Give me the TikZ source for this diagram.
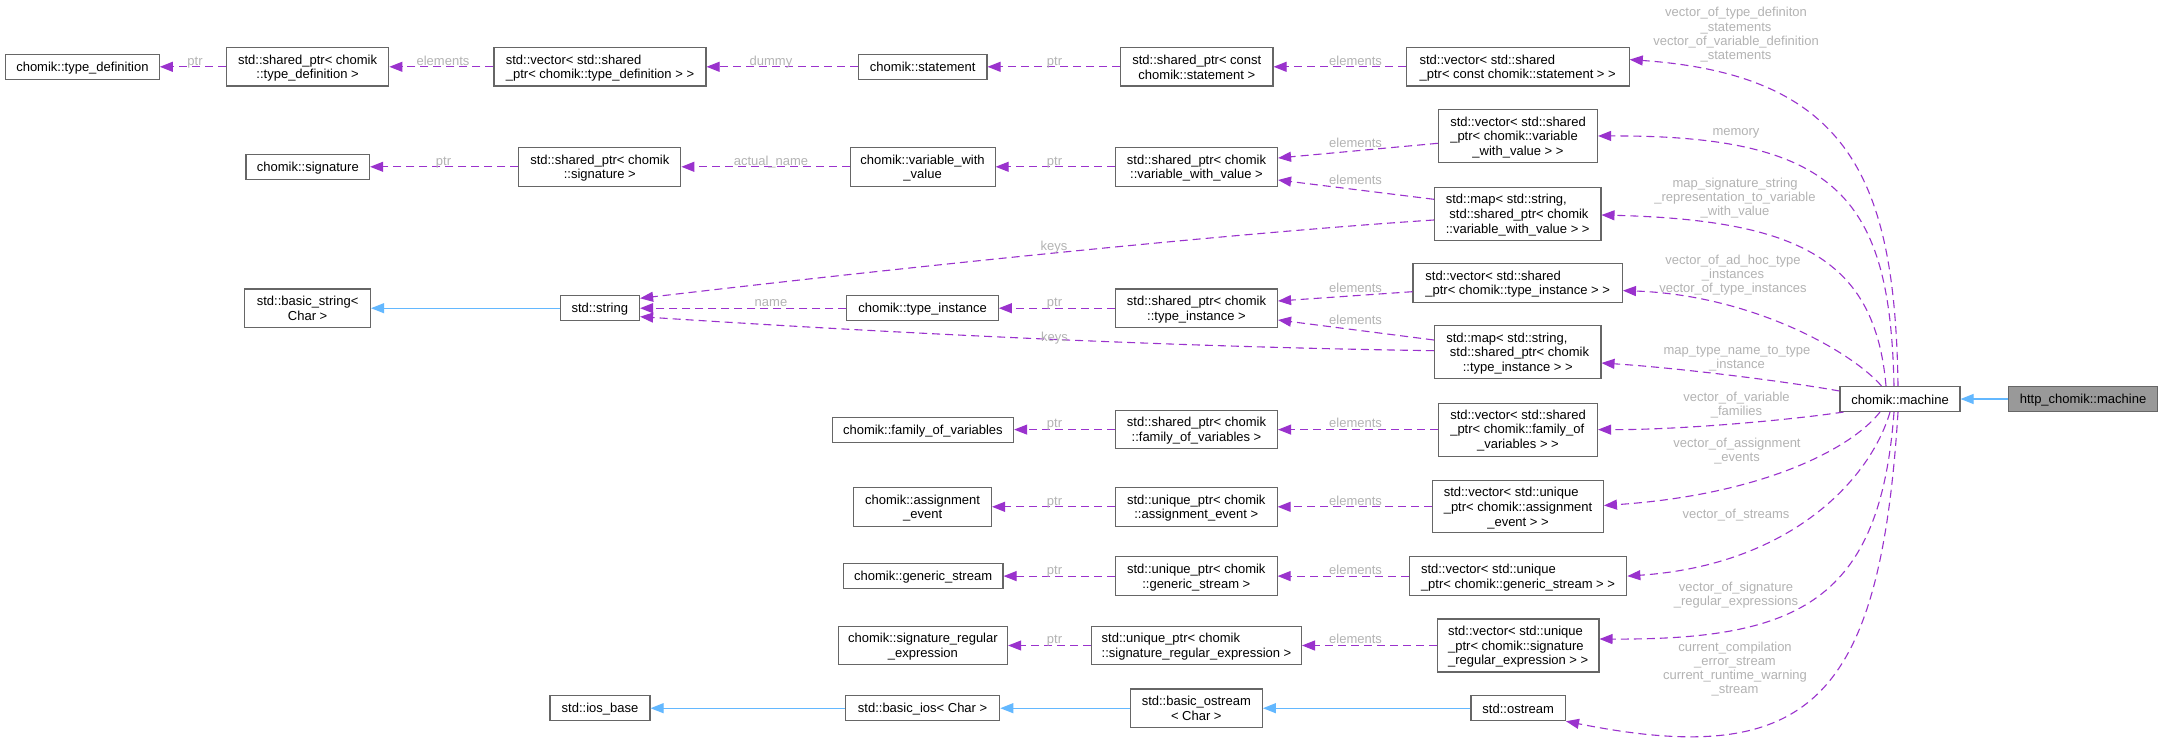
\documentclass[tikz,border=0pt]{standalone}
\usepackage{fontspec}
\setmainfont{Liberation Sans}
\usetikzlibrary{arrows.meta}
\definecolor{nodeborder}{HTML}{666666}
\definecolor{httpfill}{HTML}{999999}
\definecolor{usecol}{HTML}{9A32CD}
\definecolor{inhcol}{HTML}{63B8FF}
\definecolor{lblcol}{HTML}{B3B3B3}
\newcommand{\nlft}[1]{\begin{tabular}{@{}l@{}}#1\end{tabular}}
\newcommand{\ncen}[1]{\begin{tabular}{@{}c@{}}#1\end{tabular}}
\newcommand{\ncl}[1]{\multicolumn{1}{@{}c@{}}{#1}}
\newcommand{\nodefont}{\fontsize{13pt}{14pt}\selectfont\setbox\strutbox\hbox{\vrule height 12pt depth 2pt width 0pt}}
\newcommand{\lblfont}{\fontsize{13pt}{14.2pt}\selectfont\setbox\strutbox\hbox{\vrule height 10pt depth 4.2pt width 0pt}}
\tikzset{
  cls/.style={draw=nodeborder, fill=white, line width=1.1pt, inner sep=0pt, font=\nodefont},
  clsmain/.style={cls, fill=httpfill},
  lbl/.style={inner sep=0pt, text=lblcol, font=\lblfont, anchor=north},
  uses/.style={draw=usecol, line width=1.1pt, dash pattern=on 8pt off 5pt, -{Triangle[length=13pt,width=10pt]}},
  inh/.style={draw=inhcol, line width=1.1pt, -{Triangle[length=13pt,width=10pt]}},
}
\begin{document}
\begin{tikzpicture}[x=1pt,y=-1pt]
\fill[white] (0,0) rectangle (2163,741);
\useasboundingbox (0,0) rectangle (2163,741);

% row A
\node[cls, minimum width=153.8pt, minimum height=25pt] (td) at (82.4,66.8) {\ncen{chomik::type\_definition}};
\node[cls, minimum width=162.5pt, minimum height=38.5pt] (sptd) at (307.6,66.8) {\ncen{std::shared\_ptr< chomik\\::type\_definition >}};
\node[cls, minimum width=212pt, minimum height=38.5pt] (vtd) at (600,66.8) {\nlft{std::vector< std::shared\\\_ptr< chomik::type\_definition > >}};
\node[cls, minimum width=128.6pt, minimum height=25pt] (st) at (922.7,66.8) {\ncen{chomik::statement}};
\node[cls, minimum width=152.4pt, minimum height=38.5pt] (spst) at (1196.8,66.8) {\ncen{std::shared\_ptr< const\\chomik::statement >}};
\node[cls, minimum width=223pt, minimum height=38.5pt] (vst) at (1517.7,66.8) {\nlft{std::vector< std::shared\\\_ptr< const chomik::statement > >}};

% row B
\node[cls, minimum width=123.6pt, minimum height=25pt] (sig) at (307.8,166.8) {\ncen{chomik::signature}};
\node[cls, minimum width=162pt, minimum height=38.5pt] (spsig) at (599.8,166.8) {\ncen{std::shared\_ptr< chomik\\::signature >}};
\node[cls, minimum width=145pt, minimum height=38.5pt] (vwv) at (922.6,166.8) {\ncen{chomik::variable\_with\\\_value}};
\node[cls, minimum width=162pt, minimum height=38.5pt] (spvwv) at (1196.5,166.8) {\ncen{std::shared\_ptr< chomik\\::variable\_with\_value >}};
\node[cls, minimum width=159pt, minimum height=53pt] (vvwv) at (1518,136) {\nlft{std::vector< std::shared\\\_ptr< chomik::variable\\\ncl{\_with\_value > >}}};
\node[cls, minimum width=166.5pt, minimum height=53pt] (mvwv) at (1517.7,213.6) {\nlft{std::map< std::string,\\\ std::shared\_ptr< chomik\\\ncl{::variable\_with\_value > >}}};

% row C
\node[cls, minimum width=125.8pt, minimum height=38.5pt] (bs) at (307.6,308.2) {\ncen{std::basic\_string<\\Char >}};
\node[cls, minimum width=79.5pt, minimum height=25pt] (str) at (599.8,308.2) {\ncen{std::string}};
\node[cls, minimum width=151.5pt, minimum height=25pt] (ti) at (922.6,308.2) {\ncen{chomik::type\_instance}};
\node[cls, minimum width=162pt, minimum height=38.5pt] (spti) at (1196.5,308.2) {\ncen{std::shared\_ptr< chomik\\::type\_instance >}};
\node[cls, minimum width=209.4pt, minimum height=38.5pt] (vti) at (1517.7,283) {\nlft{std::vector< std::shared\\\_ptr< chomik::type\_instance > >}};
\node[cls, minimum width=166.5pt, minimum height=53pt] (mti) at (1517.7,352.2) {\nlft{std::map< std::string,\\\ std::shared\_ptr< chomik\\\ncl{::type\_instance > >}}};
\node[cls, minimum width=120pt, minimum height=25pt] (machine) at (1900,399) {\ncen{chomik::machine}};
\node[clsmain, minimum width=149.4pt, minimum height=25pt] (http) at (2083,399) {\ncen{http\_chomik::machine}};

% row D
\node[cls, minimum width=181.4pt, minimum height=25pt] (fam) at (922.9,429.6) {\ncen{chomik::family\_of\_variables}};
\node[cls, minimum width=162pt, minimum height=38.5pt] (spfam) at (1196.5,429.6) {\ncen{std::shared\_ptr< chomik\\::family\_of\_variables >}};
\node[cls, minimum width=159pt, minimum height=53pt] (vfam) at (1518,429.6) {\nlft{std::vector< std::shared\\\_ptr< chomik::family\_of\\\ncl{\_variables > >}}};

% row E
\node[cls, minimum width=137.7pt, minimum height=38.5pt] (ae) at (922.6,506.8) {\ncen{chomik::assignment\\\_event}};
\node[cls, minimum width=161.5pt, minimum height=38.5pt] (upae) at (1196.3,506.8) {\ncen{std::unique\_ptr< chomik\\::assignment\_event >}};
\node[cls, minimum width=170.8pt, minimum height=52pt] (vae) at (1518,506.8) {\nlft{std::vector< std::unique\\\_ptr< chomik::assignment\\\ncl{\_event > >}}};

% row F
\node[cls, minimum width=159.8pt, minimum height=25pt] (gs) at (923.1,576.1) {\ncen{chomik::generic\_stream}};
\node[cls, minimum width=161.5pt, minimum height=38.5pt] (upgs) at (1196.3,576.1) {\ncen{std::unique\_ptr< chomik\\::generic\_stream >}};
\node[cls, minimum width=217.6pt, minimum height=38.5pt] (vgs) at (1518,576.1) {\nlft{std::vector< std::unique\\\_ptr< chomik::generic\_stream > >}};

% row G
\node[cls, minimum width=169.4pt, minimum height=38.5pt] (sre) at (922.9,645.5) {\ncen{chomik::signature\_regular\\\_expression}};
\node[cls, minimum width=209.9pt, minimum height=38.5pt] (upsre) at (1196.5,645.5) {\nlft{std::unique\_ptr< chomik\\::signature\_regular\_expression >}};
\node[cls, minimum width=161.5pt, minimum height=53pt] (vsre) at (1518.2,645.5) {\nlft{std::vector< std::unique\\\_ptr< chomik::signature\\\ncl{\_regular\_expression > >}}};

% row H
\node[cls, minimum width=100pt, minimum height=25pt] (ios) at (600,708.2) {\ncen{std::ios\_base}};
\node[cls, minimum width=154.3pt, minimum height=25pt] (bios) at (922.6,708.2) {\ncen{std::basic\_ios< Char >}};
\node[cls, minimum width=132.2pt, minimum height=38.5pt] (bos) at (1196.3,708.2) {\ncen{std::basic\_ostream\\< Char >}};
\node[cls, minimum width=94.5pt, minimum height=25pt] (os) at (1518.2,708.2) {\ncen{std::ostream}};

% straight usage edges
\draw[uses] (sptd) -- (td);
\draw[uses] (vtd) -- (sptd);
\draw[uses] (st) -- (vtd);
\draw[uses] (spst) -- (st);
\draw[uses] (vst) -- (spst);
\draw[uses] (spsig) -- (sig);
\draw[uses] (vwv) -- (spsig);
\draw[uses] (spvwv) -- (vwv);
\draw[uses] ([yshift=-7.3pt]vvwv.west) -- ([yshift=8.8pt]spvwv.east);
\draw[uses] ([yshift=14.3pt]mvwv.west) -- ([yshift=-13.2pt]spvwv.east);
\draw[uses] ([yshift=-6.4pt]mvwv.west) .. controls (1250,232) and (950,262) .. ([yshift=9.9pt]str.east);
\draw[uses] (ti) -- (str);
\draw[uses] ([yshift=1.5pt]mti.west) .. controls (1250,348) and (1000,340) .. ([yshift=-8.5pt]str.east);
\draw[uses] (spti) -- (ti);
\draw[uses] ([yshift=-8.7pt]vti.west) -- ([yshift=7.2pt]spti.east);
\draw[uses] ([yshift=12.2pt]mti.west) -- ([yshift=-11.8pt]spti.east);
\draw[uses] (spfam) -- (fam);
\draw[uses] (vfam) -- (spfam);
\draw[uses] (upae) -- (ae);
\draw[uses] (vae) -- (upae);
\draw[uses] (upgs) -- (gs);
\draw[uses] (vgs) -- (upgs);
\draw[uses] (upsre) -- (sre);
\draw[uses] (vsre) -- (upsre);

% inheritance
\draw[inh] (str) -- (bs);
\draw[inh] (http) -- (machine);
\draw[inh] (os) -- (bos);
\draw[inh] (bos) -- (bios);
\draw[inh] (bios) -- (ios);

% fan from machine
\draw[uses] ([xshift=-2pt]machine.north) .. controls (1895,180) and (1850,75) .. ([yshift=7.2pt]vst.east);
\draw[uses] ([xshift=-6pt]machine.north) .. controls (1890,200) and (1840,135) .. (vvwv.east);
\draw[uses] ([xshift=-14pt]machine.north) .. controls (1875,260) and (1800,220) .. ([yshift=-1.4pt]mvwv.east);
\draw[uses] ([xshift=-18.5pt]machine.north) .. controls (1850,350) and (1750,295) .. ([yshift=-7.6pt]vti.east);
\draw[uses] ([yshift=8pt]machine.west) .. controls (1790,382) and (1680,368) .. ([yshift=-10.8pt]mti.east);
\draw[uses] ([xshift=4pt]machine.south west) .. controls (1790,420) and (1680,430) .. (vfam.east);
\draw[uses] ([xshift=-20pt]machine.south) .. controls (1850,450) and (1760,495) .. ([yshift=1.3pt]vae.east);
\draw[uses] ([xshift=-10pt]machine.south) .. controls (1870,480) and (1790,565) .. (vgs.east);
\draw[uses] ([xshift=-6pt]machine.south) .. controls (1880,600) and (1800,640) .. ([yshift=6.5pt]vsre.east);
\draw[uses] ([xshift=-2pt]machine.south) .. controls (1880,700) and (1810,770) .. (os.south east);

% labels
\node[lbl] (la1) at (195,55.2) {\ncen{ptr}};
\node[lbl] (la2) at (443,55.2) {\ncen{elements}};
\node[lbl] (la3) at (771,55.2) {\ncen{dummy}};
\node[lbl] (la4) at (1054.5,55.2) {\ncen{ptr}};
\node[lbl] (la5) at (1355.6,55.2) {\ncen{elements}};
\node[lbl] (lb1) at (443.5,155.2) {\ncen{ptr}};
\node[lbl] (lb2) at (771,155.2) {\ncen{actual\_name}};
\node[lbl] (lb3) at (1054.5,155.2) {\ncen{ptr}};
\node[lbl] (lb4) at (1355.6,137.8) {\ncen{elements}};
\node[lbl] (lb5) at (1355.6,173.8) {\ncen{elements}};
\node[lbl] (lk1) at (1054,239.8) {\ncen{keys}};
\node[lbl] (lc1) at (771,296.2) {\ncen{name}};
\node[lbl] (lc2) at (1054.5,296.2) {\ncen{ptr}};
\node[lbl] (lc3) at (1355.6,281.8) {\ncen{elements}};
\node[lbl] (lc4) at (1355.6,314.2) {\ncen{elements}};
\node[lbl] (lk2) at (1054.5,331.2) {\ncen{keys}};
\node[lbl] (ld1) at (1054.5,417.2) {\ncen{ptr}};
\node[lbl] (ld2) at (1355.6,417.2) {\ncen{elements}};
\node[lbl] (le1) at (1054.5,495.2) {\ncen{ptr}};
\node[lbl] (le2) at (1355.6,495.2) {\ncen{elements}};
\node[lbl] (lf1) at (1054.5,564.2) {\ncen{ptr}};
\node[lbl] (lf2) at (1355.6,564.2) {\ncen{elements}};
\node[lbl] (lg1) at (1054.5,633.5) {\ncen{ptr}};
\node[lbl] (lg2) at (1355.6,633.5) {\ncen{elements}};

\node[lbl] (lm1) at (1736,6.7) {\ncen{vector\_of\_type\_definiton\\\_statements\\vector\_of\_variable\_definition\\\_statements}};
\node[lbl] (lm2) at (1736,125.8) {\ncen{memory}};
\node[lbl] (lm3) at (1735,176.9) {\ncen{map\_signature\_string\\\_representation\_to\_variable\\\_with\_value}};
\node[lbl] (lm4) at (1733,253.9) {\ncen{vector\_of\_ad\_hoc\_type\\\_instances\\vector\_of\_type\_instances}};
\node[lbl] (lm5) at (1737,344.2) {\ncen{map\_type\_name\_to\_type\\\_instance}};
\node[lbl] (lm6) at (1736.5,390.9) {\ncen{vector\_of\_variable\\\_families}};
\node[lbl] (lm7) at (1737,436.8) {\ncen{vector\_of\_assignment\\\_events}};
\node[lbl] (lm8) at (1736,508.5) {\ncen{vector\_of\_streams}};
\node[lbl] (lm9) at (1736,580.9) {\ncen{vector\_of\_signature\\\_regular\_expressions}};
\node[lbl] (lm10) at (1735,640.9) {\ncen{current\_compilation\\\_error\_stream\\current\_runtime\_warning\\\_stream}};
\end{tikzpicture}
\end{document}
